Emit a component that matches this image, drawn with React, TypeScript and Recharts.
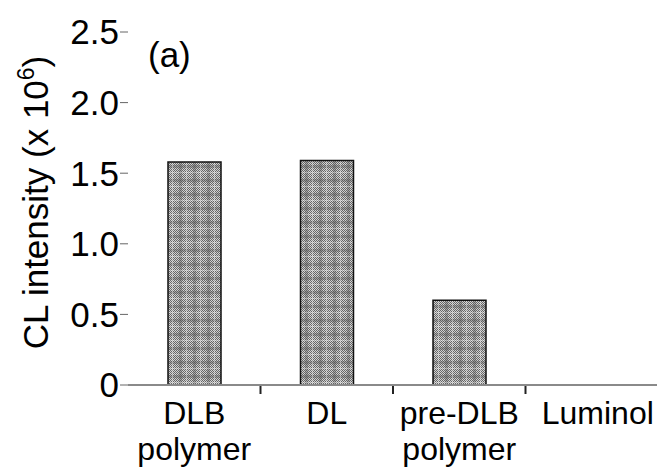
import React from 'react';
import { BarChart, Bar, XAxis, YAxis } from 'recharts';

const categories = ['DLB polymer', 'DL', 'pre-DLB polymer', 'Luminol'];
const intensity = [1.58, 1.59, 0.6, 0];
const yTicks = [0, 0.5, 1.0, 1.5, 2.0, 2.5];
const labelLines: string[][] = [['DLB', 'polymer'], ['DL'], ['pre-DLB', 'polymer'], ['Luminol']];

const data = categories.map((name, i) => ({ name, value: intensity[i] }));

const FONT = '"Liberation Sans", Arial, sans-serif';
const FS = 35;
const XFS = 32;

function CategoryTick(props: any) {
  const { x, y, payload, index } = props;
  const half = payload?.offset ?? 66.25;
  const lines = labelLines[index] || [payload.value];
  const shift = index === 3 ? 6 : 0;
  return (
    <g>
      {index < categories.length - 1 && (
        <line x1={x + half} x2={x + half} y1={y + 1} y2={y + 9} stroke="#222" strokeWidth={2} />
      )}
      {lines.map((l, i) => (
        <text
          key={i}
          x={x + shift}
          y={y + 39 + i * 36}
          textAnchor="middle"
          fontSize={XFS}
          fontFamily={FONT}
          fill="#000"
        >
          {l}
        </text>
      ))}
    </g>
  );
}

function YTitle(props: any) {
  const vb = props.viewBox || { y: 24, height: 353 };
  const cx = 40;
  const cy = vb.y + vb.height / 2 - 6;
  return (
    <text
      x={cx}
      y={cy}
      transform={`rotate(-90, ${cx}, ${cy})`}
      textAnchor="middle"
      fontSize={FS}
      fontFamily={FONT}
      fill="#000"
    >
      CL intensity (x 10<tspan fontSize={23} dy={-14}>6</tspan><tspan dy={14}>)</tspan>
    </text>
  );
}

export default function App() {
  return (
    <div style={{ position: 'relative', width: 657, height: 460 }}>
      <BarChart
        width={657}
        height={460}
        data={data}
        margin={{ top: 24, right: 7, bottom: 0, left: 0 }}
      >
        <defs>
          <pattern id="checker" width={2} height={2} patternUnits="userSpaceOnUse">
            <rect width={2} height={2} fill="#d2d2d2" />
            <rect x={0} y={0} width={1} height={1} fill="#666" />
            <rect x={1} y={1} width={1} height={1} fill="#666" />
          </pattern>
          <pattern id="plaid" width={14} height={14} patternUnits="userSpaceOnUse">
            <rect width={14} height={14} fill="url(#checker)" />
            <rect x={3} y={0} width={3} height={14} fill="#555" opacity={0.35} />
            <rect x={0} y={3} width={14} height={3} fill="#555" opacity={0.35} />
            <rect x={10} y={0} width={1} height={14} fill="#fff" opacity={0.35} />
            <rect x={0} y={10} width={14} height={1} fill="#fff" opacity={0.35} />
          </pattern>
        </defs>
        <XAxis
          dataKey="name"
          height={83}
          interval={0}
          tickLine={false}
          tickSize={0}
          tickMargin={0}
          axisLine={{ stroke: '#8a8a8a', strokeWidth: 2 }}
          tick={<CategoryTick />}
        />
        <XAxis
          xAxisId="top"
          dataKey="name"
          orientation="top"
          height={0}
          tick={false}
          tickLine={false}
          axisLine={{ stroke: '#555', strokeWidth: 1.5 }}
        />
        <YAxis
          width={120}
          domain={[0, 2.5]}
          ticks={yTicks}
          axisLine={false}
          tickSize={8}
          tickMargin={1}
          tickLine={{ stroke: '#666', strokeWidth: 1 }}
          tick={{ fontSize: FS, fontFamily: FONT, fill: '#000' }}
          tickFormatter={(v: number) => (v === 0 ? '0' : v.toFixed(1))}
          label={<YTitle />}
        />
        <YAxis
          yAxisId="right"
          orientation="right"
          width={0}
          domain={[0, 2.5]}
          tick={false}
          tickLine={false}
          axisLine={{ stroke: '#444', strokeWidth: 2 }}
        />
        <Bar
          dataKey="value"
          fill="url(#plaid)"
          stroke="#111"
          strokeWidth={1.5}
          barSize={53}
          isAnimationActive={false}
        />
      </BarChart>
      <div
        style={{
          position: 'absolute',
          left: 140,
          top: 27,
          fontSize: FS,
          fontFamily: FONT,
          lineHeight: '40px',
          color: '#000',
        }}
      >
        (a)
      </div>
    </div>
  );
}
